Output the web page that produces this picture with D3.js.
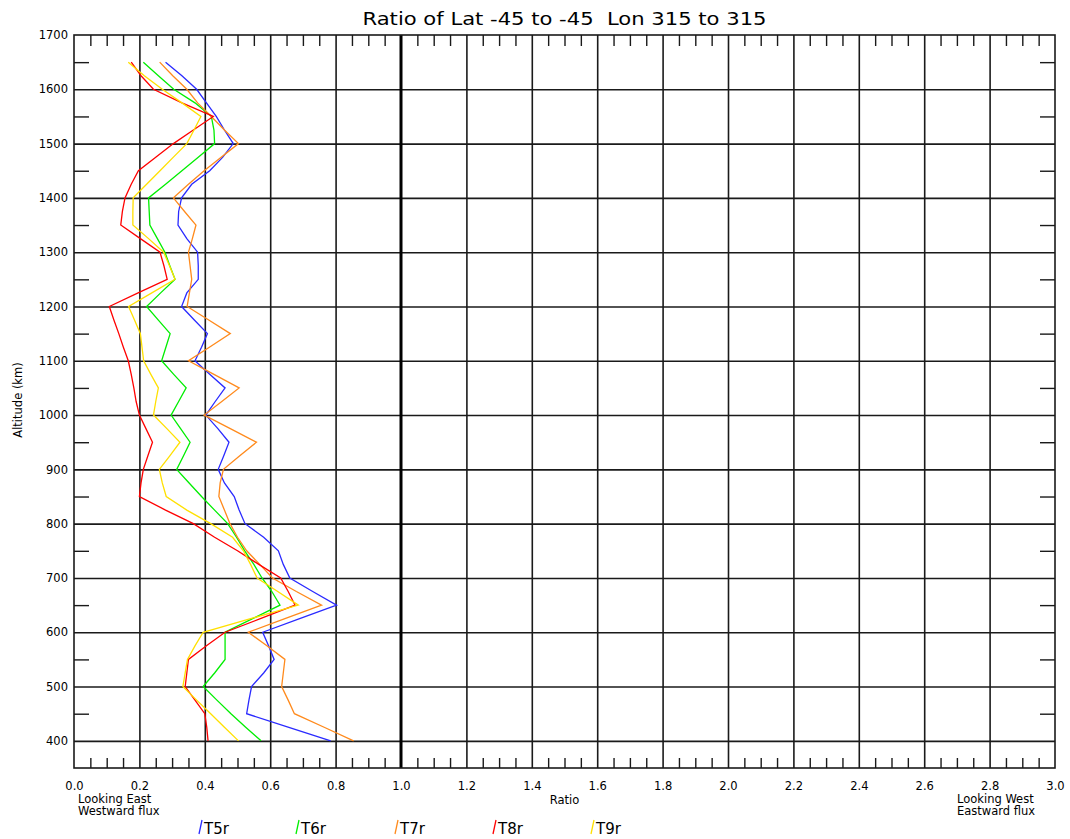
<!DOCTYPE html>
<html>
<head>
<meta charset="utf-8">
<script src="https://cdn.jsdelivr.net/npm/d3@7"></script>
<style>
  body { margin: 0; background: #fff; }
  svg { display: block; }
  text { font-family: "DejaVu Sans", sans-serif; fill: #000; }
</style>
</head>
<body>
<svg id="chart" width="1070" height="839"></svg>
<script>
// ---------------- data ----------------
const altitudes = d3.range(400, 1651, 25);
const seriesNames = ["T5r", "T6r", "T7r", "T8r", "T9r"];
const seriesColors = ["#2a2aff", "#00ee00", "#ff8a1c", "#ff0000", "#ffe000"];

const t5r = [0.785,0.657,0.528,0.535,0.543,0.58,0.612,0.595,0.577,0.69,0.803,0.73,0.66,0.64,0.625,0.58,0.523,0.505,0.49,0.46,0.441,0.458,0.474,0.44,0.403,0.432,0.462,0.415,0.37,0.39,0.408,0.368,0.329,0.345,0.38,0.38,0.378,0.345,0.318,0.32,0.329,0.36,0.415,0.455,0.487,0.46,0.435,0.405,0.375,0.33,0.28];
const t6r = [0.572,0.525,0.48,0.437,0.395,0.43,0.462,0.462,0.462,0.546,0.63,0.605,0.575,0.55,0.522,0.497,0.47,0.43,0.39,0.352,0.314,0.335,0.355,0.326,0.297,0.32,0.343,0.305,0.268,0.281,0.294,0.258,0.222,0.265,0.309,0.293,0.278,0.255,0.232,0.23,0.228,0.28,0.33,0.38,0.43,0.428,0.42,0.37,0.305,0.258,0.212];
const t7r = [0.855,0.765,0.674,0.655,0.635,0.64,0.645,0.59,0.533,0.645,0.757,0.68,0.607,0.568,0.528,0.5,0.477,0.46,0.443,0.447,0.457,0.507,0.558,0.478,0.398,0.452,0.505,0.428,0.35,0.414,0.478,0.412,0.346,0.353,0.36,0.355,0.35,0.362,0.373,0.338,0.304,0.35,0.398,0.45,0.503,0.46,0.42,0.378,0.345,0.302,0.262];
const t8r = [0.41,0.406,0.40,0.37,0.34,0.345,0.35,0.405,0.462,0.57,0.676,0.655,0.632,0.565,0.5,0.43,0.365,0.28,0.20,0.205,0.212,0.226,0.24,0.22,0.20,0.19,0.183,0.175,0.166,0.151,0.137,0.122,0.108,0.196,0.285,0.275,0.263,0.203,0.143,0.148,0.156,0.175,0.197,0.25,0.304,0.365,0.426,0.33,0.243,0.205,0.175];
const t9r = [0.503,0.46,0.418,0.375,0.333,0.34,0.347,0.37,0.395,0.54,0.686,0.623,0.56,0.54,0.518,0.485,0.418,0.345,0.282,0.27,0.261,0.293,0.324,0.284,0.243,0.25,0.258,0.235,0.213,0.208,0.203,0.185,0.167,0.238,0.309,0.292,0.274,0.228,0.18,0.18,0.181,0.222,0.263,0.304,0.345,0.367,0.388,0.33,0.27,0.215,0.166];
const seriesValues = [t5r, t6r, t7r, t8r, t9r];

const xMajorTicks = d3.range(0, 3.0001, 0.2).map(v => +v.toFixed(2));
const xMinorTicks = d3.range(0, 3.0001, 0.05).map(v => +v.toFixed(2));
const yMajorTicks = d3.range(400, 1701, 100);
const yMinorTicks = d3.range(450, 1651, 100);
const titleText = "Ratio of Lat -45 to -45  Lon 315 to 315";

// ---------------- layout ----------------
const svg = d3.select("#chart");
const L = 74, R = 1055, T = 35, B = 768;
const x = d3.scaleLinear().domain([0, 3]).range([L, R]);
const y = d3.scaleLinear().domain([350, 1700]).range([B, T]);
const plotH = B - T, plotW = R - L;

// grid (vertical)
svg.append("g").attr("transform", `translate(0,${B})`)
  .call(d3.axisBottom(x).tickValues(xMajorTicks.filter(v => v > 0 && v < 3 && v !== 1)).tickSize(-plotH).tickFormat(""))
  .call(g => g.select(".domain").remove())
  .call(g => g.selectAll("line").attr("stroke", "#1a1a1a").attr("stroke-width", 1.6));
// grid (horizontal)
svg.append("g").attr("transform", `translate(${L},0)`)
  .call(d3.axisLeft(y).tickValues(yMajorTicks.filter(v => v < 1700)).tickSize(-plotW).tickFormat(""))
  .call(g => g.select(".domain").remove())
  .call(g => g.selectAll("line").attr("stroke", "#1a1a1a").attr("stroke-width", 1.6));

// minor ticks top/bottom/left/right
const minorX = xMinorTicks.filter(v => !xMajorTicks.some(m => Math.abs(m - v) < 1e-6));
svg.append("g").attr("transform", `translate(0,${B})`)
  .call(d3.axisBottom(x).tickValues(minorX).tickSize(-10).tickFormat(""))
  .call(g => g.select(".domain").remove())
  .call(g => g.selectAll("line").attr("stroke", "#1a1a1a").attr("stroke-width", 1.4));
svg.append("g").attr("transform", `translate(0,${T})`)
  .call(d3.axisTop(x).tickValues(minorX).tickSize(-11).tickFormat(""))
  .call(g => g.select(".domain").remove())
  .call(g => g.selectAll("line").attr("stroke", "#1a1a1a").attr("stroke-width", 1.4));
svg.append("g").attr("transform", `translate(${L},0)`)
  .call(d3.axisLeft(y).tickValues(yMinorTicks).tickSize(-15).tickFormat(""))
  .call(g => g.select(".domain").remove())
  .call(g => g.selectAll("line").attr("stroke", "#1a1a1a").attr("stroke-width", 1.4));
svg.append("g").attr("transform", `translate(${R},0)`)
  .call(d3.axisRight(y).tickValues(yMinorTicks).tickSize(-15).tickFormat(""))
  .call(g => g.select(".domain").remove())
  .call(g => g.selectAll("line").attr("stroke", "#1a1a1a").attr("stroke-width", 1.4));

// thick 1.0 line
svg.append("line").attr("x1", x(1)).attr("x2", x(1)).attr("y1", T).attr("y2", B)
  .attr("stroke", "#000").attr("stroke-width", 3);

// border
svg.append("rect").attr("x", L).attr("y", T).attr("width", plotW).attr("height", plotH)
  .attr("fill", "none").attr("stroke", "#1a1a1a").attr("stroke-width", 1.6);

// axis labels
svg.append("g").attr("transform", `translate(0,${B})`)
  .call(d3.axisBottom(x).tickValues(xMajorTicks).tickSize(0).tickPadding(14).tickFormat(d3.format(".1f")))
  .call(g => g.select(".domain").remove())
  .call(g => g.selectAll("text").style("font-size", "11.5px").attr("fill", "#000"));
svg.append("g").attr("transform", `translate(${L},0)`)
  .call(d3.axisLeft(y).tickValues(yMajorTicks).tickSize(0).tickPadding(6).tickFormat(d3.format("d")))
  .call(g => g.select(".domain").remove())
  .call(g => g.selectAll("text").style("font-size", "11.5px").attr("fill", "#000"));

// series lines
const line = d3.line().x(d => x(d[1])).y(d => y(d[0]));
seriesValues.forEach((vals, i) => {
  svg.append("path")
    .datum(altitudes.map((a, j) => [a, vals[j]]))
    .attr("fill", "none")
    .attr("stroke", seriesColors[i])
    .attr("stroke-width", 1.3)
    .attr("d", line);
});

// title
svg.append("text").attr("x", (L + R) / 2).attr("y", 25).attr("text-anchor", "middle")
  .attr("xml:space", "preserve").style("white-space", "pre")
  .attr("textLength", 404).attr("lengthAdjust", "spacingAndGlyphs")
  .style("font-size", "17px").text(titleText);

// y title
svg.append("text").attr("transform", `translate(22,400) rotate(-90)`).attr("text-anchor", "middle")
  .style("font-size", "11.5px").text("Altitude (km)");

// bottom texts
svg.append("text").attr("x", 78).attr("y", 803).style("font-size", "11.5px").text("Looking East");
svg.append("text").attr("x", 78).attr("y", 815).style("font-size", "11.5px").text("Westward flux");
svg.append("text").attr("x", (L + R) / 2).attr("y", 804).attr("text-anchor", "middle").style("font-size", "11.5px").text("Ratio");
svg.append("text").attr("x", 957).attr("y", 803).style("font-size", "11.5px").text("Looking West");
svg.append("text").attr("x", 957).attr("y", 815).style("font-size", "11.5px").text("Eastward flux");

// legend
const legendX = [199, 296, 395, 493, 591];
seriesNames.forEach((n, i) => {
  const lx = legendX[i];
  svg.append("line").attr("x1", lx).attr("y1", 834).attr("x2", lx + 3).attr("y2", 820)
    .attr("stroke", seriesColors[i]).attr("stroke-width", 1.3);
  svg.append("text").attr("x", lx + 5).attr("y", 834).style("font-size", "15px").text(n);
});
</script>
</body>
</html>
